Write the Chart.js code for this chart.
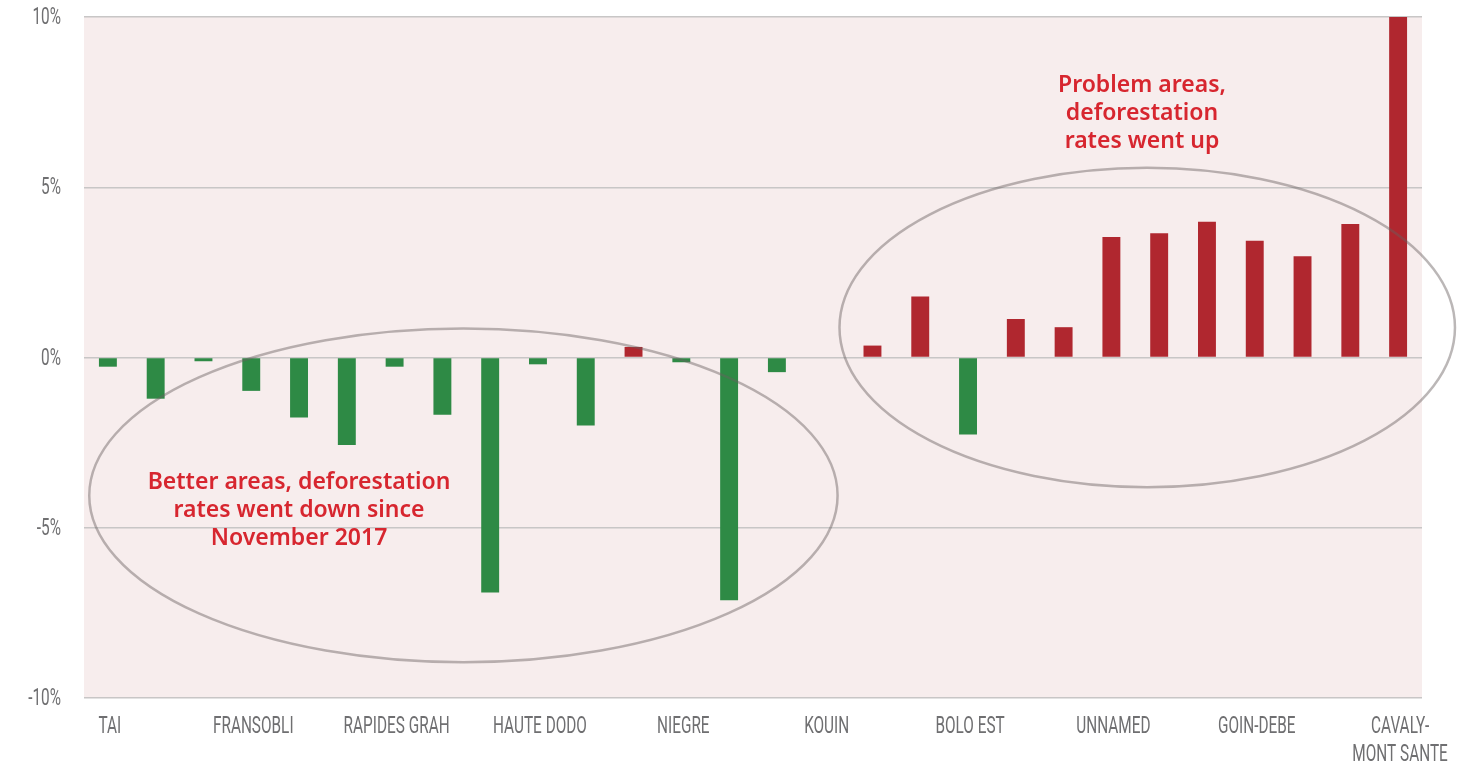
<!DOCTYPE html>
<html>
<head>
<meta charset="utf-8">
<script src="https://cdn.jsdelivr.net/npm/chart.js@4"></script>
<style>
  html, body { margin: 0; padding: 0; background: #ffffff; }
  #wrap { width: 1476px; height: 764px; position: relative; }
</style>
</head>
<body>
<div id="wrap"><canvas id="forestChart"></canvas></div>
<script>
// --- Data ---
const areaNames = [
  "TAI", "", "", "FRANSOBLI", "", "", "RAPIDES GRAH", "", "", "HAUTE DODO",
  "", "", "NIEGRE", "", "", "KOUIN", "", "", "BOLO EST", "", "", "UNNAMED",
  "", "", "GOIN-DEBE", "", "", ["CAVALY-", "MONT SANTE"]
];
// change in deforestation rate (%)
const rateChange = [
  -0.27, -1.21, -0.11, -0.98, -1.76, -2.57, -0.27, -1.68, -6.9, -0.2,
  -2.0, 0.31, -0.14, -7.13, -0.43, 0, 0.35, 1.79, -2.26, 1.13,
  0.89, 3.54, 3.65, 3.99, 3.43, 2.97, 3.92, 10
];
const yTicks = [-10, -5, 0, 5, 10];

const GREEN = "#2e8a45";
const RED = "#b0272f";
const NOTE_RED = "#d7262f";
const LABEL_GREY = "#6f6f71";

// annotation ellipses, in data units (category index / percent)
const notes = [
  { cx: 7.44, cy: -4.05, rx: 7.83, ry: 4.9,
    lines: ["Better areas, deforestation", "rates went down since", "November 2017"], tx: 4.0, ty: -3.66 },
  { cx: 21.75, cy: 0.88, rx: 6.44, ry: 4.69,
    lines: ["Problem areas,", "deforestation", "rates went up"], tx: 21.64, ty: 8.0 }
];

// plot background
const plotBackground = {
  id: "plotBackground",
  beforeDraw(chart) {
    const a = chart.chartArea, ctx = chart.ctx;
    ctx.save();
    ctx.fillStyle = "#f7eded";
    ctx.fillRect(a.left, a.top, a.right - a.left, a.bottom - a.top);
    ctx.restore();
  }
};

// condensed tick labels (the original uses a narrow face)
function narrowText(ctx, text, x, y, align) {
  ctx.save();
  ctx.translate(x, y);
  ctx.scale(0.64, 1);
  ctx.textAlign = align;
  ctx.fillText(text, 0, 0);
  ctx.restore();
}

const narrowTicks = {
  id: "narrowTicks",
  afterDraw(chart) {
    const ctx = chart.ctx, xs = chart.scales.x, ys = chart.scales.y;
    ctx.save();
    ctx.fillStyle = LABEL_GREY;
    ctx.font = "400 24px Roboto, 'Liberation Sans', sans-serif";
    ctx.textBaseline = "middle";
    ys.ticks.forEach((t, i) => {
      narrowText(ctx, t.value + "%", ys.right - 23, ys.getPixelForTick(i) + 1, "right");
    });
    xs.ticks.forEach((t, i) => {
      const lab = chart.data.labels[t.value];
      const lines = Array.isArray(lab) ? lab : [lab];
      lines.forEach((line, k) => {
        if (line) narrowText(ctx, line, xs.getPixelForTick(i) + 2, xs.top + 29 + k * 28, "center");
      });
    });
    ctx.restore();
  }
};

// ellipses and red notes
const noteLayer = {
  id: "noteLayer",
  afterDatasetsDraw(chart) {
    const ctx = chart.ctx, x = chart.scales.x, y = chart.scales.y;
    const step = x.getPixelForValue(1) - x.getPixelForValue(0);
    const unit = y.getPixelForValue(0) - y.getPixelForValue(1);
    ctx.save();
    notes.forEach(n => {
      ctx.beginPath();
      ctx.ellipse(x.getPixelForValue(n.cx), y.getPixelForValue(n.cy),
        n.rx * step, n.ry * unit, 0, 0, Math.PI * 2);
      ctx.strokeStyle = "rgba(105, 95, 95, 0.45)";
      ctx.lineWidth = 2.5;
      ctx.stroke();

      ctx.fillStyle = NOTE_RED;
      ctx.font = "600 23px 'Noto Sans', 'Open Sans', sans-serif";
      ctx.textAlign = "center";
      ctx.textBaseline = "middle";
      const tx = x.getPixelForValue(n.tx), ty = y.getPixelForValue(n.ty);
      n.lines.forEach((line, i) => ctx.fillText(line, tx, ty + i * 28));
    });
    ctx.restore();
  }
};

new Chart(document.getElementById("forestChart"), {
  type: "bar",
  data: {
    labels: areaNames,
    datasets: [{
      data: rateChange,
      backgroundColor: rateChange.map(v => (v >= 0 ? RED : GREEN)),
      barPercentage: 0.75,
      categoryPercentage: 0.5
    }]
  },
  options: {
    responsive: true,
    maintainAspectRatio: false,
    animation: false,
    layout: { padding: { top: 17, right: 54, left: 0, bottom: 0 } },
    plugins: { legend: { display: false }, tooltip: { enabled: false } },
    scales: {
      x: {
        grid: { display: false, drawTicks: false },
        border: { display: false },
        ticks: { display: false, autoSkip: false, maxRotation: 0 },
        afterFit(scale) { scale.height = 66; }
      },
      y: {
        min: -10, max: 10,
        afterBuildTicks(scale) { scale.ticks = yTicks.map(v => ({ value: v })); },
        grid: { color: "#c8c6c6", lineWidth: 1.5, drawTicks: false },
        border: { display: false },
        ticks: { display: false },
        afterFit(scale) { scale.width = 84; }
      }
    }
  },
  plugins: [plotBackground, noteLayer, narrowTicks]
});
</script>
</body>
</html>
